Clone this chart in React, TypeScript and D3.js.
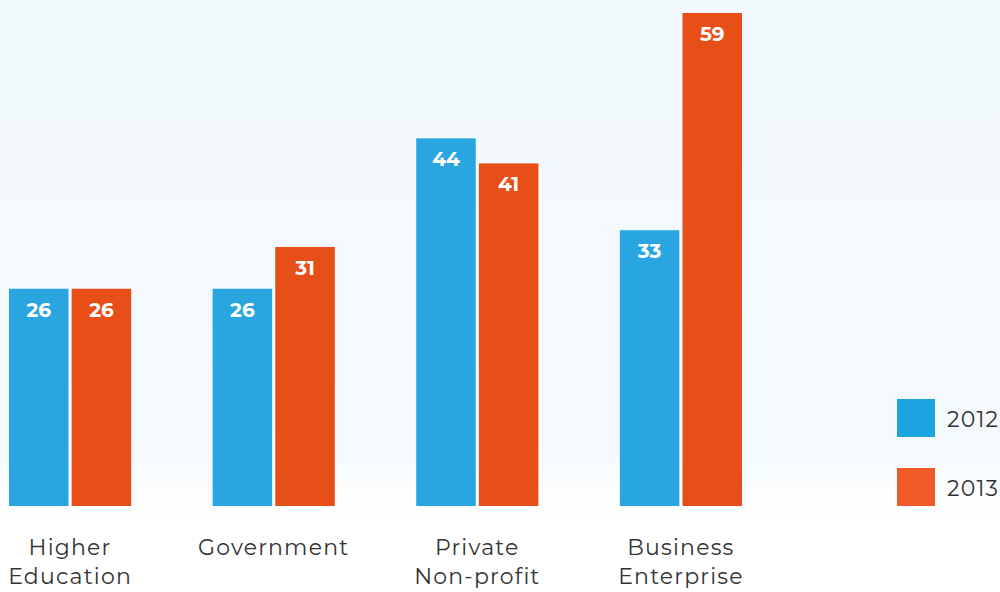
import React from "react";
import * as d3 from "d3";

const categories = ["Higher Education", "Government", "Private Non-profit", "Business Enterprise"];
const categoryLines = [["Higher", "Education"], ["Government"], ["Private", "Non-profit"], ["Business", "Enterprise"]];
const seriesNames = ["2012", "2013"];
const values2012 = [26, 26, 44, 33];
const values2013 = [26, 31, 41, 59];

const W = 1000;
const H = 592;
const barColors = ["#29a6df", "#e84e17"];
const legendColors = ["#1aa5e0", "#f15a29"];
const FONT = "Montserrat, Lato, 'Noto Sans', sans-serif";

export default function App() {
  const series = [values2012, values2013];
  const x0 = d3.scaleBand<string>().domain(categories).range([9, 742]).paddingInner(0.4).paddingOuter(0);
  const x1 = d3.scaleBand<string>().domain(seriesNames).range([0, x0.bandwidth()]).paddingInner(0.05);
  const y = d3.scaleLinear().domain([0, 59]).range([506, 13]);

  return (
    <svg width={W} height={H} style={{ position: "absolute", left: 0, top: 0, display: "block" }}>
      <defs>
        <linearGradient id="bg" x1="0" y1="0" x2="0" y2="1">
          <stop offset="0" stopColor="#f0f8fc" />
          <stop offset="0.85" stopColor="#f6fafd" />
          <stop offset="1" stopColor="#ffffff" />
        </linearGradient>
      </defs>
      <rect x={0} y={0} width={W} height={H} fill="#ffffff" />
      <rect x={0} y={0} width={W} height={525} fill="url(#bg)" />
      {categories.map((c, i) => (
        <g key={c} transform={`translate(${x0(c)},0)`}>
          {seriesNames.map((s, j) => {
            const v = series[j][i];
            const bx = x1(s)!;
            const top = y(v);
            return (
              <g key={s}>
                <rect x={bx} y={top} width={x1.bandwidth()} height={y(0) - top} fill={barColors[j]} />
                <text
                  x={bx + x1.bandwidth() / 2}
                  y={top + 28}
                  textAnchor="middle"
                  fill="#ffffff"
                  fontFamily={FONT}
                  fontWeight="bold"
                  fontSize={20}
                >
                  {v}
                </text>
              </g>
            );
          })}
          {categoryLines[i].map((line, k) => (
            <text
              key={k}
              x={x0.bandwidth() / 2}
              y={555 + k * 29}
              textAnchor="middle"
              fill="#333333"
              fontFamily={FONT}
              fontSize={22}
              letterSpacing={1.2}
            >
              {line}
            </text>
          ))}
        </g>
      ))}
      {seriesNames.map((s, j) => (
        <g key={s} transform={`translate(897,${399 + j * 69})`}>
          <rect x={0} y={0} width={38} height={38} fill={legendColors[j]} />
          <text x={50} y={28} fill="#333333" fontFamily={FONT} fontSize={22} letterSpacing={1.2}>
            {s}
          </text>
        </g>
      ))}
    </svg>
  );
}
